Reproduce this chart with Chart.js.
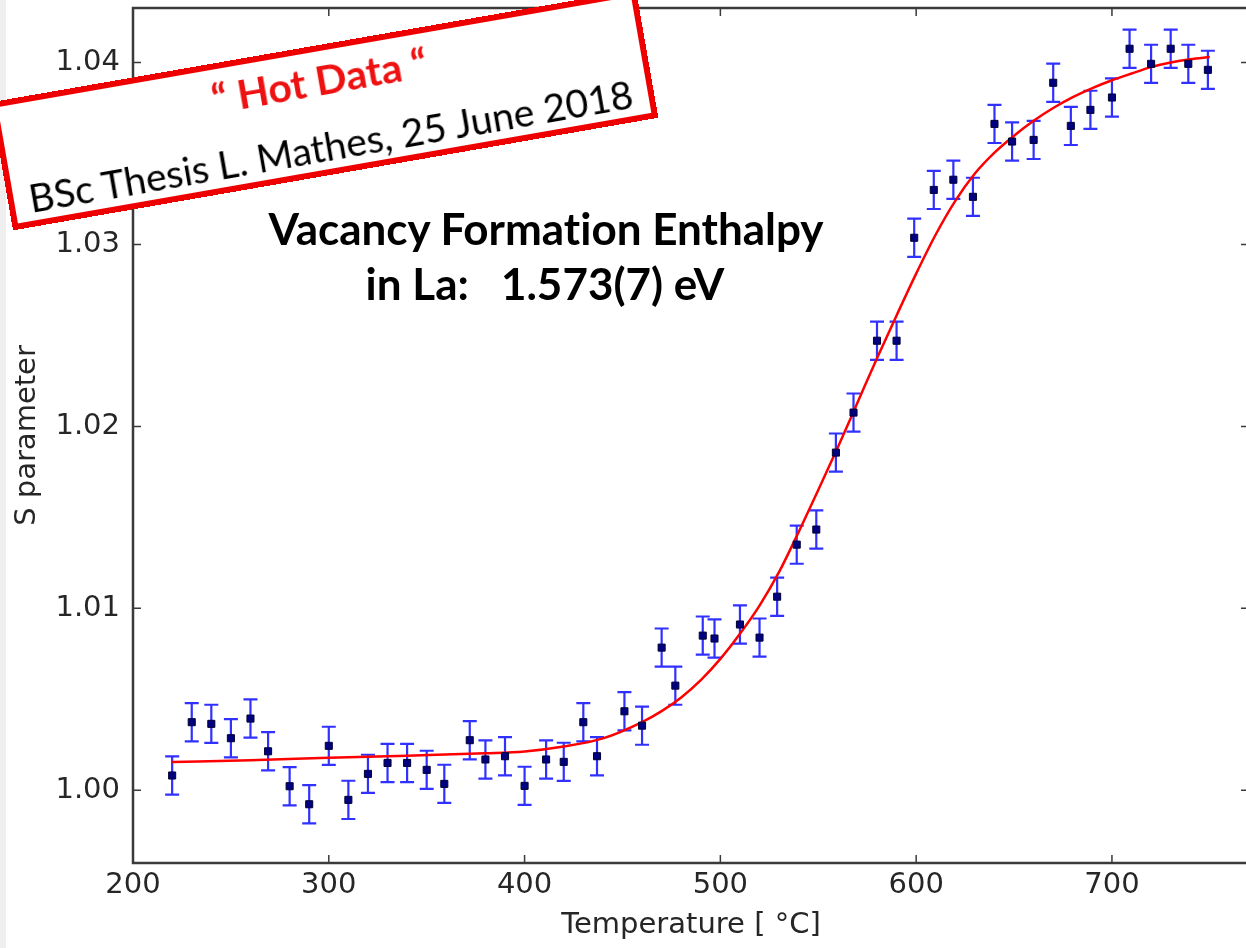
<!DOCTYPE html>
<html>
<head>
<meta charset="utf-8">
<script src="https://cdn.jsdelivr.net/npm/chart.js@4/dist/chart.umd.min.js"></script>
<style>
  html, body { margin: 0; padding: 0; background: #fff; overflow: hidden; }
  #wrap { position: relative; width: 1246px; height: 948px; overflow: hidden; }
  #chart { position: absolute; left: 0; top: 0; }
  .edge { position: absolute; left: 0; top: 0; width: 6px; height: 948px; background: #efefef; }
  .note { position: absolute; font-family: Lato, sans-serif; font-weight: 700; color: #000; font-size: 44px;
          line-height: 50px; text-align: center; white-space: pre; transform: translateX(-50%);
          font-variant-ligatures: none; }
  .stamp { position: absolute; left: -3.5px; top: 44.5px; width: 655px; height: 130px; box-sizing: border-box;
           border: 6px solid #ee0000; background: #fff; transform: rotate(-9.9deg); font-family: Lato, sans-serif;
           font-variant-ligatures: none; }
  .stamp div { position: absolute; left: 0; right: 0; text-align: center; white-space: nowrap; line-height: 46px; }
  .hot { top: 6px; color: #ee1111; font-weight: 700; font-size: 41px; }
  .who { top: 72px; color: #000; font-size: 39px; }
</style>
</head>
<body>
<div id="wrap">
  <canvas id="chart" width="1260" height="948"></canvas>
  <div class="edge"></div>
  <div class="note" style="left:546px; top:203px;">Vacancy Formation Enthalpy</div>
  <div class="note" style="left:545px; top:258px;">in La:   1.573(7) eV</div>
  <div class="stamp">
    <div class="hot">“ Hot Data “</div>
    <div class="who">BSc Thesis L. Mathes, 25 June 2018</div>
  </div>
</div>
<script>
// measured points: temperature (°C), S parameter and its uncertainty
const temps = [220, 230, 240, 250, 260, 269, 280, 290, 300, 310, 320, 330, 340, 350, 359, 372, 380, 390,
  400, 411, 420, 430, 437, 451, 460, 470, 477, 491, 497, 510, 520, 529, 539, 549, 559, 568, 580, 590,
  599, 609, 619, 629, 640, 649, 660, 670, 679, 689, 700, 709, 720, 730, 739, 749]
const sValues = [1.00081, 1.00374, 1.00365, 1.00286, 1.00394, 1.00214, 1.00022, 0.99923, 1.00244, 0.99947,
  1.0009, 1.0015, 1.0015, 1.00112, 1.00035, 1.00275, 1.00169, 1.00187, 1.00024, 1.00169, 1.00156, 1.00374,
  1.00187, 1.00434, 1.00355, 1.00784, 1.00575, 1.0085, 1.00834, 1.00911, 1.00839, 1.01064, 1.0135, 1.01433,
  1.01856, 1.02076, 1.02471, 1.02471, 1.03037, 1.033, 1.03356, 1.03262, 1.03663, 1.03566, 1.03575, 1.03889,
  1.03652, 1.0374, 1.03808, 1.04076, 1.03993, 1.04076, 1.03993, 1.0396]
const sErrors = [0.00105, 0.00105, 0.00105, 0.00105, 0.00105, 0.00105, 0.00105, 0.00105, 0.00105, 0.00105,
  0.00105, 0.00105, 0.00105, 0.00105, 0.00105, 0.00105, 0.00105, 0.00105, 0.00105, 0.00105, 0.00105, 0.00105,
  0.00105, 0.00105, 0.00105, 0.00105, 0.00105, 0.00105, 0.00105, 0.00105, 0.00105, 0.00105, 0.00105, 0.00105,
  0.00105, 0.00105, 0.00105, 0.00105, 0.00105, 0.00105, 0.00105, 0.00105, 0.00105, 0.00105, 0.00105, 0.00105,
  0.00105, 0.00105, 0.00105, 0.00105, 0.00105, 0.00105, 0.00105, 0.00105]

// trapping model fit
const fitT = [220, 260, 300, 340, 380, 400, 420, 440, 460, 470, 480, 490, 500, 510, 520, 530, 540, 550, 560,
  570, 580, 590, 600, 610, 620, 630, 640, 650, 660, 670, 680, 690, 700, 710, 720, 730, 740, 750]
const fitS = [1.00155, 1.00165, 1.00178, 1.0019, 1.00203, 1.00213, 1.0024, 1.00285, 1.00375, 1.00435, 1.0051,
  1.00605, 1.00722, 1.0086, 1.01015, 1.012, 1.0142, 1.0165, 1.01885, 1.0213, 1.02375, 1.0261, 1.0284, 1.03055,
  1.0324, 1.0339, 1.03505, 1.03598, 1.0368, 1.0375, 1.0381, 1.0386, 1.03903, 1.0394, 1.03975, 1.04, 1.04018,
  1.0403]

const xTicks = [200, 300, 400, 500, 600, 700]
const yTicks = [1.00, 1.01, 1.02, 1.03, 1.04]

const font = { family: 'DejaVu Sans', size: 29 }
const textColor = '#262626'

const errorBars = {
  id: 'errorBars',
  beforeDatasetsDraw(chart) {
    const { ctx, scales: { x, y } } = chart
    ctx.save()
    ctx.strokeStyle = '#3030ff'
    ctx.lineWidth = 2.2
    ctx.beginPath()
    temps.forEach((t, i) => {
      const px = x.getPixelForValue(t)
      const top = y.getPixelForValue(sValues[i] + sErrors[i])
      const bot = y.getPixelForValue(sValues[i] - sErrors[i])
      ctx.moveTo(px, top); ctx.lineTo(px, bot)
      ctx.moveTo(px - 7, top); ctx.lineTo(px + 7, top)
      ctx.moveTo(px - 7, bot); ctx.lineTo(px + 7, bot)
    })
    ctx.stroke()
    ctx.restore()
  }
}

// box around the plot with inward ticks on all four sides
const frame = {
  id: 'frame',
  afterDatasetsDraw(chart) {
    const { ctx, chartArea: a, scales: { x, y } } = chart
    ctx.save()
    ctx.strokeStyle = '#3a3a3a'
    ctx.lineWidth = 1.5
    ctx.beginPath()
    x.ticks.forEach(t => {
      const px = x.getPixelForValue(t.value)
      ctx.moveTo(px, a.bottom); ctx.lineTo(px, a.bottom - 8)
      ctx.moveTo(px, a.top); ctx.lineTo(px, a.top + 8)
    })
    y.ticks.forEach(t => {
      const py = y.getPixelForValue(t.value)
      ctx.moveTo(a.left, py); ctx.lineTo(a.left + 8, py)
      ctx.moveTo(a.right, py); ctx.lineTo(a.right - 8, py)
    })
    ctx.stroke()
    ctx.lineWidth = 2.5
    ctx.strokeRect(a.left, a.top, a.right - a.left, a.bottom - a.top)
    ctx.restore()
  }
}

new Chart(document.getElementById('chart'), {
  type: 'scatter',
  data: {
    datasets: [
      {
        label: 'data',
        data: temps.map((t, i) => ({ x: t, y: sValues[i] })),
        pointStyle: 'rect',
        pointRadius: 5,
        backgroundColor: '#000080',
        borderColor: '#000030',
        borderWidth: 1
      },
      {
        label: 'fit',
        data: fitT.map((t, i) => ({ x: t, y: fitS[i] })),
        showLine: true,
        pointRadius: 0,
        borderColor: '#ff0000',
        borderWidth: 2.5,
        cubicInterpolationMode: 'monotone'
      }
    ]
  },
  options: {
    responsive: false,
    animation: false,
    layout: { padding: { top: 8, right: 11, left: 0, bottom: 0 } },
    plugins: { legend: { display: false }, tooltip: { enabled: false } },
    scales: {
      x: {
        type: 'linear', min: 200, max: 770,
        afterFit(s) { s.height = 85; s.paddingLeft = 0; s.paddingRight = 0 },
        afterBuildTicks(s) { s.ticks = xTicks.map(v => ({ value: v })) },
        grid: { display: false, drawTicks: false },
        border: { display: false },
        ticks: { font, color: textColor, padding: 5, maxRotation: 0, callback: v => String(v) },
        title: { display: true, text: 'Temperature [ °C]', font, color: textColor, padding: { top: 0, bottom: 5 } }
      },
      y: {
        type: 'linear', min: 0.996, max: 1.043,
        afterFit(s) { s.width = 133; s.paddingTop = 0; s.paddingBottom = 0 },
        afterBuildTicks(s) { s.ticks = yTicks.map(v => ({ value: v })) },
        grid: { display: false, drawTicks: false },
        border: { display: false },
        ticks: { font, color: textColor, padding: 13, callback: v => v.toFixed(2) },
        title: { display: true, text: 'S parameter', font, color: textColor, padding: { top: 10, bottom: 0 } }
      }
    }
  },
  plugins: [errorBars, frame]
})
</script>
</body>
</html>
